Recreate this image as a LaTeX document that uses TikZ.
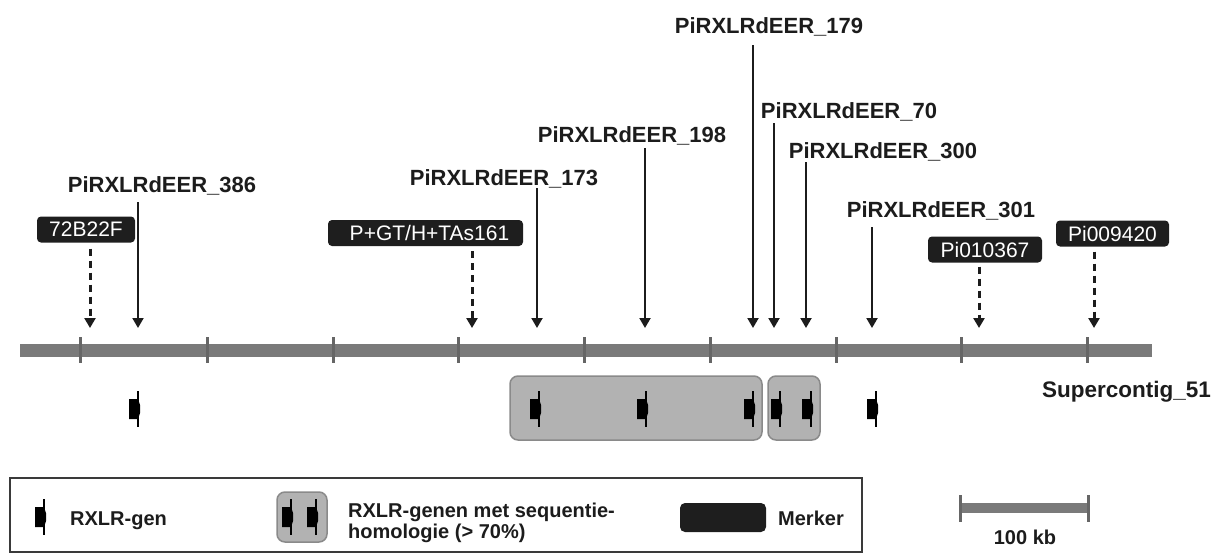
\documentclass[tikz,border=0pt]{standalone}
\usepackage{fontspec}
\setmainfont{Liberation Sans}
\usetikzlibrary{arrows.meta}
\definecolor{barcol}{HTML}{7A7A7A}
\definecolor{tickcol}{HTML}{666666}
\definecolor{inkcol}{HTML}{1C1C1C}
\definecolor{markcol}{HTML}{1E1E1E}
\definecolor{homfill}{HTML}{B2B2B2}
\definecolor{homdraw}{HTML}{8A8A8A}
\definecolor{legdraw}{HTML}{3A3A3A}
\tikzset{
  lbl/.style={font=\fontsize{22}{26}\selectfont\bfseries, inner sep=0pt, text=inkcol, anchor=base},
  legtxt/.style={font=\fontsize{20}{24}\selectfont\bfseries, inner sep=0pt, text=inkcol, anchor=base west, align=left},
  marker/.style={fill=markcol, rounded corners=4pt, text=white, font=\fontsize{21}{24}\selectfont, inner sep=0pt, minimum height=26pt},
  genearrow/.style={draw=inkcol, line width=2pt, -{Triangle[width=11pt,length=10pt]}},
  markarrow/.style={draw=inkcol, line width=3pt, dash pattern=on 7pt off 5pt, -{Triangle[width=11pt,length=10pt]}},
  homobox/.style={fill=homfill, draw=homdraw, line width=1.5pt, rounded corners=8pt},
  gene/.pic={\fill[black] (-6,-10) -- (3,-10) -- (5,-4) -- (5,4) -- (3,10) -- (-6,10) -- cycle;
             \draw[black, line width=2pt] (3,-18) -- (3,18);}
}
\begin{document}
\begin{tikzpicture}[x=1pt,y=-1pt]
\useasboundingbox (0,0) rectangle (1216,554);
% main bar
\draw[barcol, line width=13pt] (20,350) -- (1152,350);
\foreach \t in {80,207,333,458,584,710,836,961,1087}
  \draw[tickcol, line width=3pt] (\t,337) -- (\t,363);
% homology boxes
\draw[homobox] (510,376) rectangle (762,440);
\draw[homobox] (768,376) rectangle (820,440);
% genes
\foreach \g in {135,536,643,750,777,808,873}
  \pic at (\g,409) {gene};
% gene labels
\node[lbl] (l386) at (162,192) {PiRXLRdEER\_386};
\node[lbl] (l173) at (504,185) {PiRXLRdEER\_173};
\node[lbl] (l198) at (632,142) {PiRXLRdEER\_198};
\node[lbl] (l179) at (769,33) {PiRXLRdEER\_179};
\node[lbl] (l70) at (849,118) {PiRXLRdEER\_70};
\node[lbl] (l300) at (883,158) {PiRXLRdEER\_300};
\node[lbl] (l301) at (941,217) {PiRXLRdEER\_301};
% arrow coordinates
\coordinate (s386) at (138,202); \coordinate (e386) at (138,328);
\coordinate (s173) at (537,188); \coordinate (e173) at (537,328);
\coordinate (s198) at (645,148); \coordinate (e198) at (645,328);
\coordinate (s179) at (753,45);  \coordinate (e179) at (753,328);
\coordinate (s70) at (774,123);  \coordinate (e70) at (774,328);
\coordinate (s300) at (806,162); \coordinate (e300) at (806,328);
\coordinate (s301) at (872,227); \coordinate (e301) at (872,328);
\foreach \n in {386,173,198,179,70,300,301}
  \draw[genearrow] (s\n) -- (e\n);
% markers
\node[marker, minimum width=98pt] (m72) at (86,229.5) {72B22F};
\node[marker, minimum width=195pt] (mpg) at (425.5,233) {\hspace{8pt}P+GT/H+TAs161};
\node[marker, minimum width=114pt] (m367) at (985,249.5) {Pi010367};
\node[marker, minimum width=113pt] (m420) at (1112.5,233.5) {Pi009420};
\coordinate (t72) at (90,328);
\coordinate (tpg) at (472,328);
\coordinate (t367) at (979,328);
\coordinate (t420) at (1094,328);
\draw[markarrow] ([yshift=-6pt]m72.south -| t72) -- (t72);
\draw[markarrow] ([yshift=-5pt]mpg.south -| tpg) -- (tpg);
\draw[markarrow] ([yshift=-4pt]m367.south -| t367) -- (t367);
\draw[markarrow] ([yshift=-5pt]m420.south -| t420) -- (t420);
% supercontig label
\node[lbl, anchor=base west, font=\fontsize{22.5}{26}\selectfont\bfseries] (sc) at (1042,397) {Supercontig\_51};
% legend
\draw[legdraw, line width=2pt] (10,478) rectangle (862,552);
\pic at (41,517) {gene};
\node[legtxt] (lg1) at (70,525) {RXLR-gen};
\draw[homobox] (277,492) rectangle (327,542);
\pic at (288,517) {gene};
\pic at (313,517) {gene};
\node[legtxt] (lg2a) at (348,517) {RXLR-genen met sequentie-};
\node[legtxt] (lg2b) at (348,538) {homologie (> 70\%)};
\node[fill=markcol, rounded corners=5pt, minimum width=86pt, minimum height=29pt, inner sep=0pt] (lm) at (723,517.5) {};
\node[legtxt] (lg3) at (778,525) {Merker};
% scale bar
\coordinate (sb1) at (961,508);
\coordinate (sb2) at (1087,508);
\draw[barcol, line width=10pt] (sb1) -- (sb2);
\draw[tickcol, line width=3pt] (960,495) -- (960,522);
\draw[tickcol, line width=3pt] (1088,495) -- (1088,522);
\node[legtxt, anchor=base] (sbl) at (1025,544) {100 kb};
\end{tikzpicture}
\end{document}
